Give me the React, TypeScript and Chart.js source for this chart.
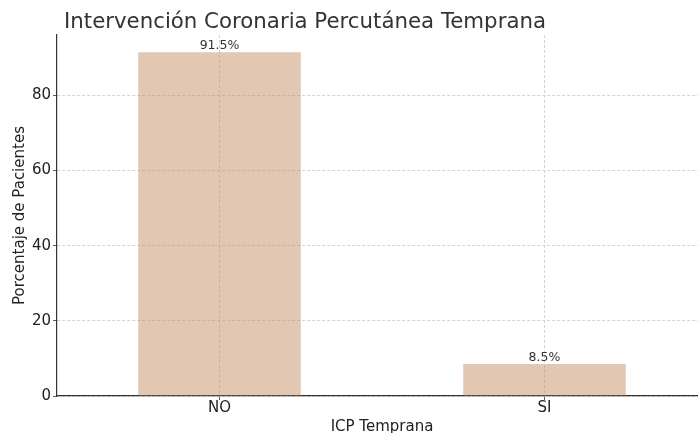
import React, { useEffect, useRef } from "react";
import { Chart, registerables } from "chart.js";

Chart.register(...registerables);

const categories = ["NO", "SI"];
const values = [91.5, 8.5];
const valueLabels = ["91.5%", "8.5%"];
const yTicks = [0, 20, 40, 60, 80];
const chartTitle = "Intervención Coronaria Percutánea Temprana";
const xTitle = "ICP Temprana";
const yTitle = "Porcentaje de Pacientes";

const FONT = "'DejaVu Sans', sans-serif";

const textPlugin = {
  id: "textPlugin",
  afterDraw(chart: any) {
    const ctx = chart.ctx;
    const area = chart.chartArea;
    ctx.save();
    // title
    ctx.fillStyle = "#333333";
    ctx.font = `21.3px ${FONT}`;
    ctx.textAlign = "left";
    ctx.textBaseline = "middle";
    ctx.fillText(chartTitle, 64, 22);
    // x title
    ctx.font = `15px ${FONT}`;
    ctx.fillStyle = "#222222";
    ctx.textAlign = "center";
    ctx.fillText(xTitle, (area.left + area.right) / 2, 427);
    // y title
    ctx.save();
    ctx.translate(20, (area.top + area.bottom) / 2);
    ctx.rotate(-Math.PI / 2);
    ctx.fillText(yTitle, 0, 0);
    ctx.restore();
    // value labels
    const meta = chart.getDatasetMeta(0);
    ctx.font = `12.5px ${FONT}`;
    ctx.fillStyle = "#333333";
    ctx.textBaseline = "alphabetic";
    meta.data.forEach((bar: any, i: number) => {
      ctx.fillText(valueLabels[i], bar.x, bar.y - 3);
    });
    ctx.restore();
  },
};

export default function App() {
  const ref = useRef<HTMLCanvasElement>(null);
  useEffect(() => {
    document.body.style.margin = "0";
    document.body.style.overflow = "hidden";
    const chart = new Chart(ref.current!, {
      type: "bar",
      data: {
        labels: categories,
        datasets: [
          {
            data: values,
            backgroundColor: "rgba(197,143,101,0.5)",
            borderWidth: 0,
            barPercentage: 0.5,
            categoryPercentage: 1.0,
          },
        ],
      },
      options: {
        responsive: false,
        animation: false,
        layout: { padding: { top: 35, right: 13, left: 0, bottom: 0 } },
        plugins: {
          legend: { display: false },
          tooltip: { enabled: false },
          title: { display: false },
        },
        scales: {
          x: {
            grid: {
              offset: false,
              color: "#c8c8c8",
              lineWidth: 0.8,
              drawTicks: true,
              tickLength: 4,
              tickColor: "#333333",
              tickBorderDash: [],
            },
            border: { display: true, color: "#333333", width: 1.2, dash: [3, 2] },
            ticks: {
              color: "#222222",
              font: { family: FONT, size: 15 },
              padding: -1,
            },
            afterFit(scale: any) {
              scale.height = 37;
            },
          },
          y: {
            min: 0,
            max: 96.08,
            grid: {
              color: "#c8c8c8",
              lineWidth: 0.8,
              drawTicks: true,
              tickLength: 4,
              tickColor: "#333333",
              tickBorderDash: [],
            },
            border: { display: true, color: "#333333", width: 1.2, dash: [3, 2] },
            ticks: {
              stepSize: 20,
              color: "#222222",
              font: { family: FONT, size: 15 },
              padding: 2,
            },
            afterBuildTicks(scale: any) {
              scale.ticks = yTicks.map((v) => ({ value: v }));
            },
            afterFit(scale: any) {
              scale.width = 57;
            },
          },
        },
      },
      plugins: [textPlugin],
    });
    return () => chart.destroy();
  }, []);
  return (
    <div style={{ width: 720, height: 433, overflow: "hidden" }}>
      <canvas ref={ref} width={720} height={433} style={{ display: "block" }} />
    </div>
  );
}
